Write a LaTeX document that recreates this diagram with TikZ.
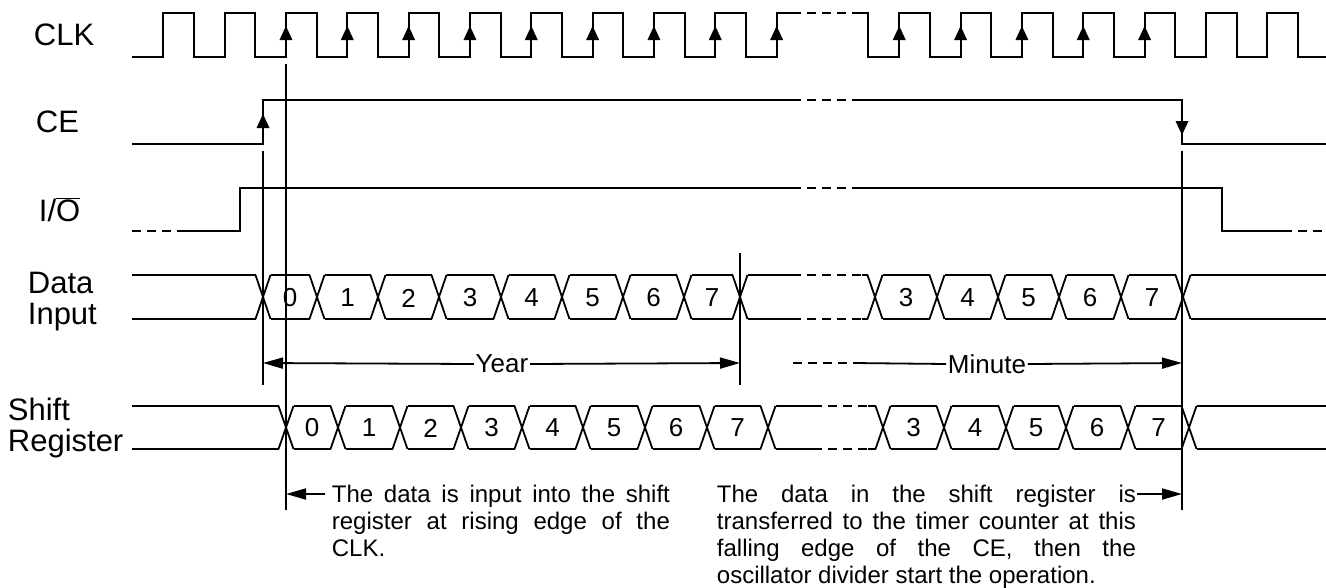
\documentclass[tikz,border=0pt]{standalone}
\usepackage{fontspec}
\setmainfont{Liberation Sans}
\usetikzlibrary{arrows.meta}
\begin{document}
\begin{tikzpicture}[x=1pt,y=-1pt,line width=1.8pt,
    dashes/.style={dash pattern=on 9pt off 6pt},
    span/.style={-{Triangle[length=20pt,width=11pt]}},
    sig/.style={font=\fontsize{31}{31}\selectfont,anchor=west,align=left,inner sep=0pt},
    num/.style={font=\fontsize{26}{28}\selectfont,inner sep=0pt},
    note/.style={font=\fontsize{24}{27}\selectfont,anchor=north west,inner sep=0pt}]
  \useasboundingbox (0,0) rectangle (1326,587);

  % signal names
  \node [sig] (clk) at (33,35) {CLK};
  \node [sig] (ce) at (35,122) {CE};
  \node [sig] (io) at (38,210) {I/$\overline{\mbox{O}}$};
  \node [sig] (din) at (27,302) {Data\\Input};
  \node [sig] (sreg) at (7,428) {Shift\\Register};

  % CLK
  \draw (132,57) -- (163.3,57) foreach \k in {0,...,9} {-- ++(0,-44) -- ++(30.67,0) -- ++(0,44) -- ++(30.67,0)}
    -- ++(0,-44) -- (792,13);
  \draw [dashes] (792,13) -- (853,13);
  \draw (853,13) -- (868,13) -- (868,57) -- (899.3,57) foreach \k in {0,...,6} {-- ++(0,-44) -- ++(30.67,0) -- ++(0,44) -- ++(30.67,0)};
  \foreach \k in {2,...,10,12,13,14,15,16}
    \fill ({163.3+61.33*\k},26) -- ++(-6.5,14) -- ++(13,0) -- cycle;

  % CE
  \draw (132,144) -- (263,144) -- (263,100) -- (792,100);
  \draw [dashes] (792,100) -- (853,100);
  \draw (853,100) -- (1182,100) -- (1182,144) -- (1326,144);
  \fill (263,114) -- ++(-6.5,14) -- ++(13,0) -- cycle;
  \fill (1182,135) -- ++(-6.5,-14) -- ++(13,0) -- cycle;

  % I/O
  \draw [dashes] (132,231) -- (178,231);
  \draw (178,231) -- (240,231) -- (240,188) -- (792,188);
  \draw [dashes] (792,188) -- (853,188);
  \draw (853,188) -- (1222,188) -- (1222,231) -- (1283,231);
  \draw [dashes] (1283,231) -- (1326,231);

  % Data Input
  \draw (132,275) -- (255.5,275) (132,319) -- (255.5,319);
  \foreach \c in {263,317,378,439,501,562,623,684,740,875,937,998,1059,1121,1183}
    \draw (\c-7.5,275) -- (\c+7.5,319) (\c-7.5,319) -- (\c+7.5,275);
  \foreach \a/\b/\t in {263/317/0,317/378/1,378/439/2,439/501/3,501/562/4,562/623/5,623/684/6,684/740/7,
                        875/937/3,937/998/4,998/1059/5,1059/1121/6,1121/1183/7} {
    \draw (\a+7.5,275) -- (\b-7.5,275) (\a+7.5,319) -- (\b-7.5,319);
    \node [num] at ({(\a+\b)/2},298) {\t};
  }
  \draw (747.5,275) -- (792,275) (747.5,319) -- (792,319);
  \draw [dashes] (792,275) -- (862,275) (792,319) -- (862,319);
  \draw (862,275) -- (867.5,275) (862,319) -- (867.5,319);
  \draw (1190.5,275) -- (1326,275) (1190.5,319) -- (1326,319);

  % Shift Register
  \draw (132,406) -- (278.5,406) (132,449) -- (278.5,449);
  \foreach \c in {286,338,400,461,522,583,645,707,768,883,944,1006,1066,1128,1189}
    \draw (\c-7.5,406) -- (\c+7.5,449) (\c-7.5,449) -- (\c+7.5,406);
  \foreach \a/\b/\t in {286/338/0,338/400/1,400/461/2,461/522/3,522/583/4,583/645/5,645/707/6,707/768/7,
                        883/944/3,944/1006/4,1006/1066/5,1066/1128/6,1128/1189/7} {
    \draw (\a+7.5,406) -- (\b-7.5,406) (\a+7.5,449) -- (\b-7.5,449);
    \node [num] at ({(\a+\b)/2},428) {\t};
  }
  \draw (775.5,406) -- (813,406) (775.5,449) -- (813,449);
  \draw [dashes] (813,406) -- (868,406) (813,449) -- (868,449);
  \draw (868,406) -- (875.5,406) (868,449) -- (875.5,449);
  \draw (1196.5,406) -- (1326,406) (1196.5,449) -- (1326,449);

  % edge markers
  \coordinate (cerise) at (263,363);
  \coordinate (clkfirst) at (286,494);
  \coordinate (yearend) at (740,363);
  \coordinate (cefall) at (1182,363);
  \coordinate (cenote) at (1182,494);
  \draw (263,151) -- (263,385);
  \draw (286,64) -- (286,510);
  \draw (740,253) -- (740,385);
  \draw (1182,151) -- (1182,510);

  % Year / Minute
  \node [num, inner sep=1pt] (year) at (502,364) {Year};
  \draw [span] (year.west) -- (cerise);
  \draw [span] (year.east) -- (yearend);
  \node [num, inner sep=1pt] (minute) at (987,364) {Minute};
  \draw [dashes] (793,363) -- (853,363);
  \draw (853,363) -- (minute.west);
  \draw [span] (minute.east) -- (cefall);

  % notes
  \node [note] (leftnote) at (331,484) {\parbox{338pt}{\tolerance=10000\hbadness=10000
    The data is input into the shift\linebreak register at rising edge of the\linebreak CLK.}};
  \node [note] (rightnote) at (716,484) {\parbox{419pt}{\tolerance=10000\hbadness=10000
    The data in the shift register is\linebreak transferred to the timer counter at this\linebreak
    falling edge of the CE, then the\linebreak oscillator divider start the operation.}};
  \draw [span] (325,494) -- (clkfirst);
  \draw [span] (1137,494) -- (cenote);
\end{tikzpicture}
\end{document}
